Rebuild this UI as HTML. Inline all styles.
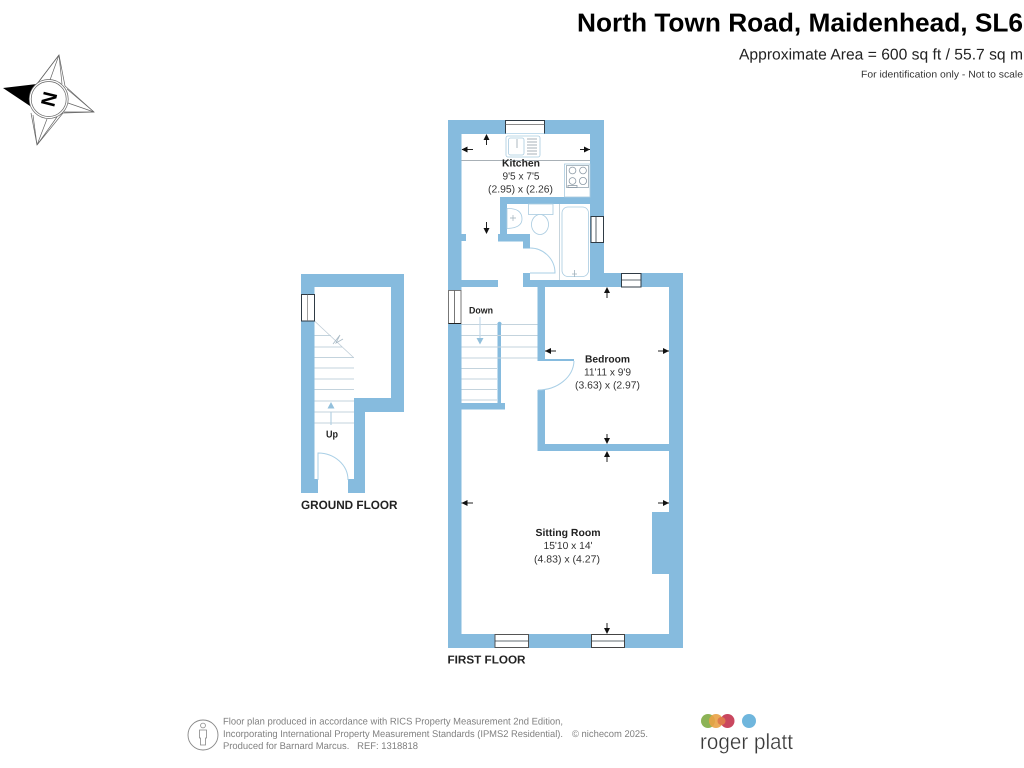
<!DOCTYPE html>
<html><head><meta charset="utf-8"><title>North Town Road, Maidenhead, SL6 floor plan</title>
<style>
html,body{margin:0;padding:0;background:#fff;width:1024px;height:768px;overflow:hidden}
svg{display:block}
text{font-family:"Liberation Sans",Arial,sans-serif;text-rendering:geometricPrecision}
.b{font-weight:bold;fill:#222}
.r{fill:#333}
.w{fill:#86bbde}
.fx{fill:#fff;stroke:#a9cfe6;stroke-width:.8}
.ln{stroke:#a9cfe6;stroke-width:1;fill:none}
.st{stroke:#c3d3dd;stroke-width:1}
.ar{stroke:#222;stroke-width:1;fill:none}
.f{fill:#808080;font-size:9.7px}
</style></head><body>
<svg width="1024" height="768" viewBox="0 0 1024 768" xmlns="http://www.w3.org/2000/svg">
<rect width="1024" height="768" fill="#fff"/>

<!-- header -->
<text x="577" y="31.5" font-size="26" font-weight="bold" fill="#000" textLength="446" lengthAdjust="spacingAndGlyphs">North Town Road, Maidenhead, SL6</text>
<text x="739" y="59.3" font-size="15.5" fill="#222" textLength="284" lengthAdjust="spacingAndGlyphs">Approximate Area = 600 sq ft / 55.7 sq m</text>
<text x="861" y="77.3" font-size="9.8" fill="#333" textLength="162" lengthAdjust="spacingAndGlyphs">For identification only - Not to scale</text>

<!-- compass -->
<g fill="none" stroke="#666" stroke-width=".7">
<path d="M59 55L37 84M59 55L62 84M59 55L50 80"/>
<path d="M94 112L67 89M94 112L64 112M94 112L68 103"/>
<path d="M37 145L33 115M37 145L57 117M37 145L47 119"/>
<path d="M37 84L59 55L65 86L94 112L63 113L37 145L31 113"/>
</g>
<path d="M3 88L37 84Q30 92 30 106Z" fill="#000"/>
<circle cx="48.7" cy="99" r="19.5" fill="#fff" stroke="#666" stroke-width=".7"/>
<circle cx="48.7" cy="99" r="17.5" fill="#fff" stroke="#666" stroke-width=".7"/>
<text x="0" y="0" font-size="20" font-weight="bold" fill="#000" text-anchor="middle" transform="translate(55.8,100.8) rotate(-76)">N</text>

<!-- FIRST FLOOR walls -->
<path class="w" d="M448 120H604V273H683V648H448Z"/>
<g fill="#fff">
<rect x="461.5" y="134" width="128.5" height="146"/>
<rect x="461.5" y="280" width="76" height="171"/>
<rect x="545" y="287" width="124" height="157"/>
<rect x="537" y="361" width="9" height="29"/>
<rect x="461.5" y="451" width="207.5" height="183"/>
<rect x="461.5" y="444" width="76" height="8"/>
</g>
<g class="w">
<rect x="500" y="197" width="90" height="7"/>
<rect x="500" y="197" width="7" height="37"/>
<rect x="498" y="234" width="32" height="7.5"/>
<rect x="523" y="241" width="7" height="7.5"/>
<rect x="523" y="273" width="7" height="8"/>
<rect x="523" y="280" width="81" height="7"/>
<rect x="461.5" y="234" width="4.5" height="7"/>
<rect x="461.5" y="280" width="36.5" height="7"/>
<rect x="537.5" y="287" width="7.5" height="73"/>
<rect x="537.5" y="390" width="7.5" height="61"/>
<rect x="537.5" y="444" width="131.5" height="7"/>
<rect x="545" y="359" width="29" height="2"/>
<rect x="652" y="512" width="17" height="62"/>
<rect x="461.5" y="403" width="43.5" height="6.5"/>
<rect x="497.5" y="324" width="3.5" height="80"/>
</g>
<circle cx="499.5" cy="324" r="2.2" fill="#86bbde"/>

<!-- first floor stairs -->
<g class="st">
<path d="M461.5 324.5H497M501 324.5H537.5"/>
<path d="M461.5 335.5H537.5M461.5 347H537.5M461.5 358H537.5"/>
<path d="M461.5 368.5H497M461.5 379H497M461.5 389.5H497M461.5 400H497"/>
</g>
<path d="M480 317V339" stroke="#c3d9e8" stroke-width="1.2" fill="none"/>
<path d="M476.5 338H483.5L480 344.5Z" fill="#93c0dc"/>
<text x="481" y="313.5" font-size="9.5" class="b" text-anchor="middle" textLength="24" lengthAdjust="spacingAndGlyphs">Down</text>

<!-- doors -->
<path class="ln" stroke-width=".8" d="M530 248A25 25 0 0 1 555 273H530"/>
<path class="ln" stroke-width=".8" d="M574 361A36 30 0 0 1 538 390"/>

<!-- kitchen fittings -->
<path d="M461.5 160.5H590" stroke="#a8b0b6" stroke-width="1"/>
<g fill="#fff" stroke="#a9cbe0" stroke-width=".8">
<rect x="506" y="136" width="34" height="21" rx="2"/>
<rect x="508.5" y="138" width="15.5" height="17" rx="2"/>
<rect x="564.5" y="164" width="25.5" height="33"/>
<rect x="566.5" y="165.5" width="22" height="22" stroke="#98a8b4"/>
</g>
<path d="M517 139V148" stroke="#9aa8b2" stroke-width=".8"/>
<path d="M527 139H537M527 142H537M527 145H537M527 148H537M527 151H537M527 154H537" stroke="#8a98a3" stroke-width=".7"/>
<g fill="none" stroke="#8b99a5" stroke-width=".8">
<circle cx="572.5" cy="170.5" r="3.4"/><circle cx="583" cy="170.5" r="3.4"/>
<circle cx="572.5" cy="181" r="3.4"/><circle cx="583" cy="181" r="3.6"/>
<rect x="568" y="185.5" width="9" height="2"/>
</g>
<!-- bathroom -->
<g fill="#fff" stroke="#a9cbe0" stroke-width=".8">
<path d="M507 208.5Q522 208 522 219Q522 228 507 228.5Z"/>
<rect x="528.5" y="204" width="24.5" height="10.5"/>
<ellipse cx="540" cy="224.5" rx="8.5" ry="10"/>
<rect x="562" y="207" width="26.5" height="69.5" rx="6"/>
</g>
<path d="M510 218H516M513 215V221" stroke="#9fb0bb" stroke-width=".7"/>
<path d="M559.5 204V280" stroke="#c7d4dc" stroke-width="1"/>
<path d="M574.5 270V277M572 274H577" stroke="#9fb0bb" stroke-width=".8"/>

<!-- first floor windows -->
<g fill="#fff" stroke="#2f3b45" stroke-width="1">
<rect x="505.5" y="120.5" width="39" height="13" stroke="none"/>
<path d="M505 120.5H544.5M505.5 120V133.5M544.5 120V133.5" fill="none"/>
<path d="M505.5 124.5H544.5" stroke-width=".7" stroke="#666" fill="none"/>
<rect x="591" y="216.5" width="12.5" height="26"/>
<path d="M596 216.5V242.5" fill="none" stroke-width=".8"/>
<rect x="448.5" y="290.5" width="12.5" height="33" stroke="#777"/>
<path d="M448.5 323.5H461" stroke="#222" fill="none"/>
<path d="M454.5 290.5V323" fill="none" stroke="#555" stroke-width=".8"/>
<rect x="621.5" y="273.5" width="19.5" height="13.5"/>
<path d="M621.5 280H641" fill="none" stroke-width=".8"/>
<rect x="495" y="634.5" width="33.5" height="13" stroke="#555"/>
<path d="M495 641H528.5" fill="none" stroke-width=".8"/>
<rect x="591.5" y="634.5" width="33" height="13" stroke="#444"/>
<path d="M591.5 641H624.5" fill="none" stroke-width=".8"/>
</g>

<!-- dimension arrows -->
<g class="ar">
<path d="M486.5 139V145M462 149.5H473M580 149.5H590M486.5 222V229"/>
<path d="M607 292V298M545 351H556M658 351H669M607 434V439"/>
<path d="M607 456V462M461.5 503H473M658 503H669M607 623V629"/>
</g>
<g fill="#111">
<path d="M486.5 134L483.5 140H489.5Z"/><path d="M461.5 149.5L467.5 146.5V152.5Z"/><path d="M590 149.5L584 146.5V152.5Z"/><path d="M486.5 234L483.5 228H489.5Z"/>
<path d="M607 287L604 293H610Z"/><path d="M545 351L551 348V354Z"/><path d="M669 351L663 348V354Z"/><path d="M607 444L604 438H610Z"/>
<path d="M607 451L604 457H610Z"/><path d="M461.5 503L467.5 500V506Z"/><path d="M669 503L663 500V506Z"/><path d="M607 634L604 628H610Z"/>
</g>

<!-- room labels -->
<text x="521" y="166.5" font-size="10.3" class="b" text-anchor="middle" textLength="38" lengthAdjust="spacingAndGlyphs">Kitchen</text>
<text x="521" y="179.5" font-size="10.3" class="r" text-anchor="middle" textLength="37" lengthAdjust="spacingAndGlyphs">9'5 x 7'5</text>
<text x="520.5" y="192.5" font-size="10.3" class="r" text-anchor="middle" textLength="65" lengthAdjust="spacingAndGlyphs">(2.95) x (2.26)</text>
<text x="607.5" y="362.5" font-size="10.3" class="b" text-anchor="middle" textLength="45" lengthAdjust="spacingAndGlyphs">Bedroom</text>
<text x="607.5" y="375.5" font-size="10.3" class="r" text-anchor="middle" textLength="47" lengthAdjust="spacingAndGlyphs">11'11 x 9'9</text>
<text x="607.5" y="388.5" font-size="10.3" class="r" text-anchor="middle" textLength="65" lengthAdjust="spacingAndGlyphs">(3.63) x (2.97)</text>
<text x="568" y="536" font-size="10.3" class="b" text-anchor="middle" textLength="65" lengthAdjust="spacingAndGlyphs">Sitting Room</text>
<text x="568" y="549" font-size="10.3" class="r" text-anchor="middle" textLength="49" lengthAdjust="spacingAndGlyphs">15'10 x 14'</text>
<text x="567" y="562.5" font-size="10.3" class="r" text-anchor="middle" textLength="66" lengthAdjust="spacingAndGlyphs">(4.83) x (4.27)</text>
<text x="447.5" y="663.5" font-size="11.5" class="b" textLength="78" lengthAdjust="spacingAndGlyphs">FIRST FLOOR</text>

<!-- GROUND FLOOR -->
<path class="w" d="M301 274H404V412H365V493H301Z"/>
<path fill="#fff" d="M314.5 287H391V398H354V479H348V493H318V479H314.5Z"/>
<g class="st">
<path d="M314.5 335.5H331M314.5 347H342M314.5 357.5H354M314.5 368H354M314.5 379H354M314.5 389.5H354M314.5 401H354M314.5 412H354M314.5 423H354"/>
</g>
<path d="M314.5 321L353.5 357.5" stroke="#bfcdd7" stroke-width=".8" fill="none"/>
<path d="M333 344L340 335L336 343L343 339" stroke="#a9bac6" stroke-width=".8" fill="none"/>
<path d="M331 412V425" stroke="#b5d0e2" stroke-width="1.2" fill="none"/>
<path d="M331 402L327.5 408.5H334.5Z" fill="#93c0dc"/>
<text x="332" y="437.5" font-size="10" class="b" text-anchor="middle" textLength="12" lengthAdjust="spacingAndGlyphs">Up</text>
<path class="ln" stroke-width=".8" d="M318 480V453A30 27 0 0 1 348 480"/>
<g fill="#fff" stroke="#2f3b45" stroke-width="1">
<rect x="301.5" y="294.5" width="13" height="26.5"/>
<path d="M307.5 294.5V321" fill="none" stroke-width=".7" stroke="#777"/>
</g>
<text x="301" y="509" font-size="12" class="b" textLength="96.5" lengthAdjust="spacingAndGlyphs">GROUND FLOOR</text>

<!-- footer -->
<circle cx="203" cy="735" r="15" fill="none" stroke="#888" stroke-width=".9"/>
<circle cx="203" cy="725.5" r="2.4" fill="none" stroke="#888" stroke-width=".8"/>
<path d="M199.5 730H206.5V738H205.5V745H200.5V738H199.5Z" fill="none" stroke="#888" stroke-width=".8"/>
<text class="f" x="223" y="724.5" textLength="340" lengthAdjust="spacingAndGlyphs">Floor plan produced in accordance with RICS Property Measurement 2nd Edition,</text>
<text class="f" x="223" y="737" textLength="340" lengthAdjust="spacingAndGlyphs">Incorporating International Property Measurement Standards (IPMS2 Residential).</text>
<text class="f" x="572" y="737" textLength="76" lengthAdjust="spacingAndGlyphs">© nichecom 2025.</text>
<text class="f" x="223" y="749" textLength="195" lengthAdjust="spacingAndGlyphs" xml:space="preserve">Produced for Barnard Marcus.   REF: 1318818</text>

<!-- logo -->
<circle cx="708" cy="721" r="7" fill="#8cb356"/>
<circle cx="716" cy="721" r="7" fill="#e9a245" fill-opacity=".9"/>
<circle cx="727.5" cy="721" r="7" fill="#c9475f"/>
<circle cx="721.5" cy="721" r="4" fill="#de7a4d"/>
<circle cx="749" cy="721" r="7" fill="#6fb6dd"/>
<text x="700" y="749" font-size="22" fill="#3a3a3a" stroke="#fff" stroke-width=".35" textLength="93" lengthAdjust="spacingAndGlyphs">roger platt</text>
</svg>
</body></html>
